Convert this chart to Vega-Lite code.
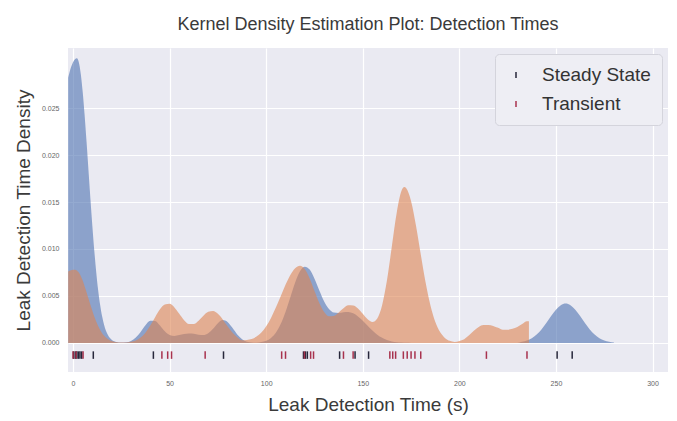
{
  "$schema": "https://vega.github.io/schema/vega-lite/v6.json",
  "width": 600,
  "height": 324,
  "autosize": {"type": "none"},
  "padding": {"left": 68, "top": 48, "right": 9, "bottom": 49},
  "background": "white",
  "title": {
    "text": "Kernel Density Estimation Plot: Detection Times",
    "font": "Liberation Sans",
    "fontSize": 18,
    "fontWeight": "normal",
    "color": "#3a3a3a",
    "anchor": "middle",
    "offset": 14
  },
  "config": {
    "view": {"fill": "#eaeaf2", "stroke": null},
    "axis": {
      "domain": false,
      "ticks": false,
      "grid": true,
      "gridColor": "#ffffff",
      "gridWidth": 1.2,
      "labelFont": "Liberation Sans",
      "labelFontSize": 7,
      "labelColor": "#666666",
      "titleFont": "Liberation Sans",
      "titleFontSize": 19,
      "titleFontWeight": "normal",
      "titleColor": "#3a3a3a"
    }
  },
  "resolve": {"legend": {"fill": "independent", "stroke": "independent"}},
  "datasets": {
    "kde": [
      {"time": -2.5, "density": 0.02824, "condition": "Steady State"},
      {"time": -1, "density": 0.02937, "condition": "Steady State"},
      {"time": 0, "density": 0.02988, "condition": "Steady State"},
      {"time": 1, "density": 0.03019, "condition": "Steady State"},
      {"time": 2, "density": 0.0303, "condition": "Steady State"},
      {"time": 3, "density": 0.02988, "condition": "Steady State"},
      {"time": 4, "density": 0.02866, "condition": "Steady State"},
      {"time": 5, "density": 0.02674, "condition": "Steady State"},
      {"time": 6, "density": 0.02426, "condition": "Steady State"},
      {"time": 7, "density": 0.02141, "condition": "Steady State"},
      {"time": 8, "density": 0.01838, "condition": "Steady State"},
      {"time": 9, "density": 0.01534, "condition": "Steady State"},
      {"time": 10, "density": 0.01246, "condition": "Steady State"},
      {"time": 11, "density": 0.00984, "condition": "Steady State"},
      {"time": 12, "density": 0.00756, "condition": "Steady State"},
      {"time": 13, "density": 0.00564, "condition": "Steady State"},
      {"time": 14, "density": 0.0041, "condition": "Steady State"},
      {"time": 15, "density": 0.0029, "condition": "Steady State"},
      {"time": 16, "density": 0.00199, "condition": "Steady State"},
      {"time": 18, "density": 0.00087, "condition": "Steady State"},
      {"time": 20, "density": 0.00034, "condition": "Steady State"},
      {"time": 22.5, "density": 0.00009, "condition": "Steady State"},
      {"time": 25, "density": 0.00003, "condition": "Steady State"},
      {"time": 27.5, "density": 0.00006, "condition": "Steady State"},
      {"time": 30, "density": 0.00021, "condition": "Steady State"},
      {"time": 32.5, "density": 0.00057, "condition": "Steady State"},
      {"time": 35, "density": 0.00117, "condition": "Steady State"},
      {"time": 37.5, "density": 0.00188, "condition": "Steady State"},
      {"time": 40, "density": 0.00235, "condition": "Steady State"},
      {"time": 42.5, "density": 0.00233, "condition": "Steady State"},
      {"time": 45, "density": 0.00184, "condition": "Steady State"},
      {"time": 47.5, "density": 0.00123, "condition": "Steady State"},
      {"time": 50, "density": 0.00084, "condition": "Steady State"},
      {"time": 52.5, "density": 0.00073, "condition": "Steady State"},
      {"time": 55, "density": 0.00083, "condition": "Steady State"},
      {"time": 57.5, "density": 0.00094, "condition": "Steady State"},
      {"time": 60, "density": 0.001, "condition": "Steady State"},
      {"time": 62.5, "density": 0.00096, "condition": "Steady State"},
      {"time": 65, "density": 0.00086, "condition": "Steady State"},
      {"time": 67.5, "density": 0.00083, "condition": "Steady State"},
      {"time": 70, "density": 0.00103, "condition": "Steady State"},
      {"time": 72.5, "density": 0.00151, "condition": "Steady State"},
      {"time": 75, "density": 0.0021, "condition": "Steady State"},
      {"time": 77.5, "density": 0.00243, "condition": "Steady State"},
      {"time": 80, "density": 0.00222, "condition": "Steady State"},
      {"time": 82.5, "density": 0.0016, "condition": "Steady State"},
      {"time": 85, "density": 0.0009, "condition": "Steady State"},
      {"time": 87.5, "density": 0.0004, "condition": "Steady State"},
      {"time": 90, "density": 0.00013, "condition": "Steady State"},
      {"time": 92.5, "density": 0.00004, "condition": "Steady State"},
      {"time": 95, "density": 0.00001, "condition": "Steady State"},
      {"time": 97.5, "density": 0.00009, "condition": "Steady State"},
      {"time": 100, "density": 0.00023, "condition": "Steady State"},
      {"time": 102.5, "density": 0.00053, "condition": "Steady State"},
      {"time": 105, "density": 0.00108, "condition": "Steady State"},
      {"time": 107.5, "density": 0.002, "condition": "Steady State"},
      {"time": 110, "density": 0.00329, "condition": "Steady State"},
      {"time": 112.5, "density": 0.00486, "condition": "Steady State"},
      {"time": 115, "density": 0.00643, "condition": "Steady State"},
      {"time": 117.5, "density": 0.00763, "condition": "Steady State"},
      {"time": 120, "density": 0.00812, "condition": "Steady State"},
      {"time": 122.5, "density": 0.00781, "condition": "Steady State"},
      {"time": 125, "density": 0.00683, "condition": "Steady State"},
      {"time": 127.5, "density": 0.00558, "condition": "Steady State"},
      {"time": 130, "density": 0.00442, "condition": "Steady State"},
      {"time": 132.5, "density": 0.00362, "condition": "Steady State"},
      {"time": 135, "density": 0.00324, "condition": "Steady State"},
      {"time": 137.5, "density": 0.00319, "condition": "Steady State"},
      {"time": 140, "density": 0.00326, "condition": "Steady State"},
      {"time": 142.5, "density": 0.00329, "condition": "Steady State"},
      {"time": 145, "density": 0.00315, "condition": "Steady State"},
      {"time": 147.5, "density": 0.00282, "condition": "Steady State"},
      {"time": 150, "density": 0.00237, "condition": "Steady State"},
      {"time": 152.5, "density": 0.00183, "condition": "Steady State"},
      {"time": 155, "density": 0.00132, "condition": "Steady State"},
      {"time": 157.5, "density": 0.00087, "condition": "Steady State"},
      {"time": 160, "density": 0.00054, "condition": "Steady State"},
      {"time": 162.5, "density": 0.00031, "condition": "Steady State"},
      {"time": 165, "density": 0.00016, "condition": "Steady State"},
      {"time": 167.5, "density": 0.00008, "condition": "Steady State"},
      {"time": 170, "density": 0.00004, "condition": "Steady State"},
      {"time": 172.5, "density": 0.00001, "condition": "Steady State"},
      {"time": 175, "density": 0, "condition": "Steady State"},
      {"time": 200, "density": 0, "condition": "Steady State"},
      {"time": 230, "density": 0, "condition": "Steady State"},
      {"time": 232.5, "density": 0.00013, "condition": "Steady State"},
      {"time": 235, "density": 0.00026, "condition": "Steady State"},
      {"time": 237.5, "density": 0.0005, "condition": "Steady State"},
      {"time": 240, "density": 0.00089, "condition": "Steady State"},
      {"time": 242.5, "density": 0.00143, "condition": "Steady State"},
      {"time": 245, "density": 0.00211, "condition": "Steady State"},
      {"time": 247.5, "density": 0.00285, "condition": "Steady State"},
      {"time": 250, "density": 0.00353, "condition": "Steady State"},
      {"time": 252.5, "density": 0.00402, "condition": "Steady State"},
      {"time": 255, "density": 0.0042, "condition": "Steady State"},
      {"time": 257.5, "density": 0.00402, "condition": "Steady State"},
      {"time": 260, "density": 0.00353, "condition": "Steady State"},
      {"time": 262.5, "density": 0.00285, "condition": "Steady State"},
      {"time": 265, "density": 0.00211, "condition": "Steady State"},
      {"time": 267.5, "density": 0.00143, "condition": "Steady State"},
      {"time": 270, "density": 0.00089, "condition": "Steady State"},
      {"time": 272.5, "density": 0.0005, "condition": "Steady State"},
      {"time": 275, "density": 0.00026, "condition": "Steady State"},
      {"time": 277.5, "density": 0.00013, "condition": "Steady State"},
      {"time": 280, "density": 0.00005, "condition": "Steady State"},
      {"time": -2.5, "density": 0.00759, "condition": "Transient"},
      {"time": -1, "density": 0.00773, "condition": "Transient"},
      {"time": 0, "density": 0.00778, "condition": "Transient"},
      {"time": 1, "density": 0.0078, "condition": "Transient"},
      {"time": 2, "density": 0.00772, "condition": "Transient"},
      {"time": 3, "density": 0.00749, "condition": "Transient"},
      {"time": 4, "density": 0.00712, "condition": "Transient"},
      {"time": 5, "density": 0.00663, "condition": "Transient"},
      {"time": 6, "density": 0.00604, "condition": "Transient"},
      {"time": 7, "density": 0.0054, "condition": "Transient"},
      {"time": 8, "density": 0.00473, "condition": "Transient"},
      {"time": 9, "density": 0.00406, "condition": "Transient"},
      {"time": 10, "density": 0.00341, "condition": "Transient"},
      {"time": 11, "density": 0.00281, "condition": "Transient"},
      {"time": 12, "density": 0.00227, "condition": "Transient"},
      {"time": 13, "density": 0.0018, "condition": "Transient"},
      {"time": 14, "density": 0.00139, "condition": "Transient"},
      {"time": 15, "density": 0.00106, "condition": "Transient"},
      {"time": 16, "density": 0.00078, "condition": "Transient"},
      {"time": 18, "density": 0.00041, "condition": "Transient"},
      {"time": 20, "density": 0.0002, "condition": "Transient"},
      {"time": 22.5, "density": 0.00007, "condition": "Transient"},
      {"time": 25, "density": 0.00003, "condition": "Transient"},
      {"time": 27.5, "density": 0.00004, "condition": "Transient"},
      {"time": 30, "density": 0.00011, "condition": "Transient"},
      {"time": 32.5, "density": 0.00026, "condition": "Transient"},
      {"time": 35, "density": 0.00057, "condition": "Transient"},
      {"time": 37.5, "density": 0.00109, "condition": "Transient"},
      {"time": 40, "density": 0.00184, "condition": "Transient"},
      {"time": 42.5, "density": 0.00273, "condition": "Transient"},
      {"time": 45, "density": 0.00357, "condition": "Transient"},
      {"time": 47.5, "density": 0.0041, "condition": "Transient"},
      {"time": 50, "density": 0.00416, "condition": "Transient"},
      {"time": 52.5, "density": 0.00378, "condition": "Transient"},
      {"time": 55, "density": 0.00309, "condition": "Transient"},
      {"time": 57.5, "density": 0.00241, "condition": "Transient"},
      {"time": 60, "density": 0.002, "condition": "Transient"},
      {"time": 62.5, "density": 0.00201, "condition": "Transient"},
      {"time": 65, "density": 0.00237, "condition": "Transient"},
      {"time": 67.5, "density": 0.0029, "condition": "Transient"},
      {"time": 70, "density": 0.00331, "condition": "Transient"},
      {"time": 72.5, "density": 0.0034, "condition": "Transient"},
      {"time": 75, "density": 0.0031, "condition": "Transient"},
      {"time": 77.5, "density": 0.0025, "condition": "Transient"},
      {"time": 80, "density": 0.00177, "condition": "Transient"},
      {"time": 82.5, "density": 0.0011, "condition": "Transient"},
      {"time": 85, "density": 0.00061, "condition": "Transient"},
      {"time": 87.5, "density": 0.00029, "condition": "Transient"},
      {"time": 90, "density": 0.00032, "condition": "Transient"},
      {"time": 92.5, "density": 0.00041, "condition": "Transient"},
      {"time": 95, "density": 0.00067, "condition": "Transient"},
      {"time": 97.5, "density": 0.00111, "condition": "Transient"},
      {"time": 100, "density": 0.00178, "condition": "Transient"},
      {"time": 102.5, "density": 0.00266, "condition": "Transient"},
      {"time": 105, "density": 0.00376, "condition": "Transient"},
      {"time": 107.5, "density": 0.00497, "condition": "Transient"},
      {"time": 110, "density": 0.00619, "condition": "Transient"},
      {"time": 112.5, "density": 0.00724, "condition": "Transient"},
      {"time": 115, "density": 0.00795, "condition": "Transient"},
      {"time": 117.5, "density": 0.00822, "condition": "Transient"},
      {"time": 120, "density": 0.00785, "condition": "Transient"},
      {"time": 122.5, "density": 0.00686, "condition": "Transient"},
      {"time": 125, "density": 0.00552, "condition": "Transient"},
      {"time": 127.5, "density": 0.00424, "condition": "Transient"},
      {"time": 130, "density": 0.00328, "condition": "Transient"},
      {"time": 132.5, "density": 0.00283, "condition": "Transient"},
      {"time": 135, "density": 0.00287, "condition": "Transient"},
      {"time": 137.5, "density": 0.00324, "condition": "Transient"},
      {"time": 140, "density": 0.00369, "condition": "Transient"},
      {"time": 142.5, "density": 0.004, "condition": "Transient"},
      {"time": 145, "density": 0.00397, "condition": "Transient"},
      {"time": 147.5, "density": 0.00366, "condition": "Transient"},
      {"time": 150, "density": 0.00309, "condition": "Transient"},
      {"time": 152.5, "density": 0.00251, "condition": "Transient"},
      {"time": 155, "density": 0.00222, "condition": "Transient"},
      {"time": 157.5, "density": 0.0026, "condition": "Transient"},
      {"time": 160, "density": 0.00401, "condition": "Transient"},
      {"time": 162.5, "density": 0.00664, "condition": "Transient"},
      {"time": 165, "density": 0.0102, "condition": "Transient"},
      {"time": 167.5, "density": 0.01378, "condition": "Transient"},
      {"time": 170, "density": 0.01617, "condition": "Transient"},
      {"time": 171.5, "density": 0.0166, "condition": "Transient"},
      {"time": 172.5, "density": 0.01647, "condition": "Transient"},
      {"time": 175, "density": 0.01509, "condition": "Transient"},
      {"time": 177.5, "density": 0.01253, "condition": "Transient"},
      {"time": 180, "density": 0.00944, "condition": "Transient"},
      {"time": 182.5, "density": 0.00645, "condition": "Transient"},
      {"time": 185, "density": 0.004, "condition": "Transient"},
      {"time": 187.5, "density": 0.00225, "condition": "Transient"},
      {"time": 190, "density": 0.00115, "condition": "Transient"},
      {"time": 192.5, "density": 0.00053, "condition": "Transient"},
      {"time": 195, "density": 0.00022, "condition": "Transient"},
      {"time": 197.5, "density": 0.0001, "condition": "Transient"},
      {"time": 200, "density": 0.0002, "condition": "Transient"},
      {"time": 202.5, "density": 0.0004, "condition": "Transient"},
      {"time": 205, "density": 0.0008, "condition": "Transient"},
      {"time": 207.5, "density": 0.0013, "condition": "Transient"},
      {"time": 210, "density": 0.0017, "condition": "Transient"},
      {"time": 212.5, "density": 0.0019, "condition": "Transient"},
      {"time": 215, "density": 0.0019, "condition": "Transient"},
      {"time": 217.5, "density": 0.0018, "condition": "Transient"},
      {"time": 220, "density": 0.0016, "condition": "Transient"},
      {"time": 222.5, "density": 0.0014, "condition": "Transient"},
      {"time": 225, "density": 0.0014, "condition": "Transient"},
      {"time": 227.5, "density": 0.0015, "condition": "Transient"},
      {"time": 230, "density": 0.0017, "condition": "Transient"},
      {"time": 232.5, "density": 0.002, "condition": "Transient"},
      {"time": 235, "density": 0.0023, "condition": "Transient"},
      {"time": 236, "density": 0.0023, "condition": "Transient"}
    ],
    "rug": [
      {"time": 0.3, "group": "Steady State"},
      {"time": 1.2, "group": "Steady State"},
      {"time": 2, "group": "Steady State"},
      {"time": 2.8, "group": "Steady State"},
      {"time": 3.6, "group": "Steady State"},
      {"time": 4.5, "group": "Steady State"},
      {"time": 10.5, "group": "Steady State"},
      {"time": 41.6, "group": "Steady State"},
      {"time": 77.9, "group": "Steady State"},
      {"time": 119.3, "group": "Steady State"},
      {"time": 120.3, "group": "Steady State"},
      {"time": 121.3, "group": "Steady State"},
      {"time": 138, "group": "Steady State"},
      {"time": 146, "group": "Steady State"},
      {"time": 153, "group": "Steady State"},
      {"time": 250.6, "group": "Steady State"},
      {"time": 258.4, "group": "Steady State"},
      {"time": 0, "group": "Transient"},
      {"time": 1.6, "group": "Transient"},
      {"time": 5.2, "group": "Transient"},
      {"time": 46, "group": "Transient"},
      {"time": 49, "group": "Transient"},
      {"time": 51, "group": "Transient"},
      {"time": 68.4, "group": "Transient"},
      {"time": 108, "group": "Transient"},
      {"time": 110, "group": "Transient"},
      {"time": 119.8, "group": "Transient"},
      {"time": 123, "group": "Transient"},
      {"time": 124.5, "group": "Transient"},
      {"time": 140, "group": "Transient"},
      {"time": 145, "group": "Transient"},
      {"time": 164, "group": "Transient"},
      {"time": 165.5, "group": "Transient"},
      {"time": 167, "group": "Transient"},
      {"time": 171, "group": "Transient"},
      {"time": 173, "group": "Transient"},
      {"time": 175, "group": "Transient"},
      {"time": 177, "group": "Transient"},
      {"time": 180, "group": "Transient"},
      {"time": 214, "group": "Transient"},
      {"time": 235, "group": "Transient"}
    ]
  },
  "layer": [
    {
      "data": {"name": "kde"},
      "mark": {"type": "area", "interpolate": "monotone", "opacity": 0.6, "clip": true},
      "encoding": {
        "x": {
          "field": "time",
          "type": "quantitative",
          "scale": {"domain": [-2.6, 308], "nice": false, "zero": false},
          "axis": {
            "values": [0, 50, 100, 150, 200, 250, 300],
            "format": "d",
            "title": "Leak Detection Time (s)",
            "labelPadding": 7,
            "titlePadding": 9
          }
        },
        "y": {
          "field": "density",
          "type": "quantitative",
          "stack": null,
          "scale": {"domain": [-0.0031, 0.0314], "nice": false, "zero": false},
          "axis": {
            "values": [0, 0.005, 0.01, 0.015, 0.02, 0.025],
            "format": ".3f",
            "title": "Leak Detection Time Density",
            "labelPadding": 9,
            "titlePadding": 8
          }
        },
        "y2": {"datum": 0},
        "fill": {
          "field": "condition",
          "type": "nominal",
          "scale": {"domain": ["Steady State", "Transient"], "range": ["#4c72b0", "#dd8452"]},
          "legend": null
        }
      }
    },
    {
      "data": {"name": "rug"},
      "mark": {"type": "rule", "strokeWidth": 1.5},
      "encoding": {
        "x": {"field": "time", "type": "quantitative"},
        "y": {"datum": -0.0009},
        "y2": {"datum": -0.0017},
        "stroke": {
          "field": "group",
          "type": "nominal",
          "scale": {"domain": ["Steady State", "Transient"], "range": ["#26263a", "#a8324e"]},
          "legend": {
            "title": null,
            "orient": "top-right",
            "offset": 6,
            "padding": 11,
            "fillColor": "#eeeef4",
            "strokeColor": "#d4d4dc",
            "cornerRadius": 4,
            "labelFont": "Liberation Sans",
            "labelFontSize": 19,
            "labelColor": "#333333",
            "labelOffset": 16,
            "rowPadding": 9,
            "symbolType": "M0,-0.33L0,0.33",
            "symbolSize": 324,
            "symbolStrokeWidth": 1.5
          }
        }
      }
    }
  ]
}
